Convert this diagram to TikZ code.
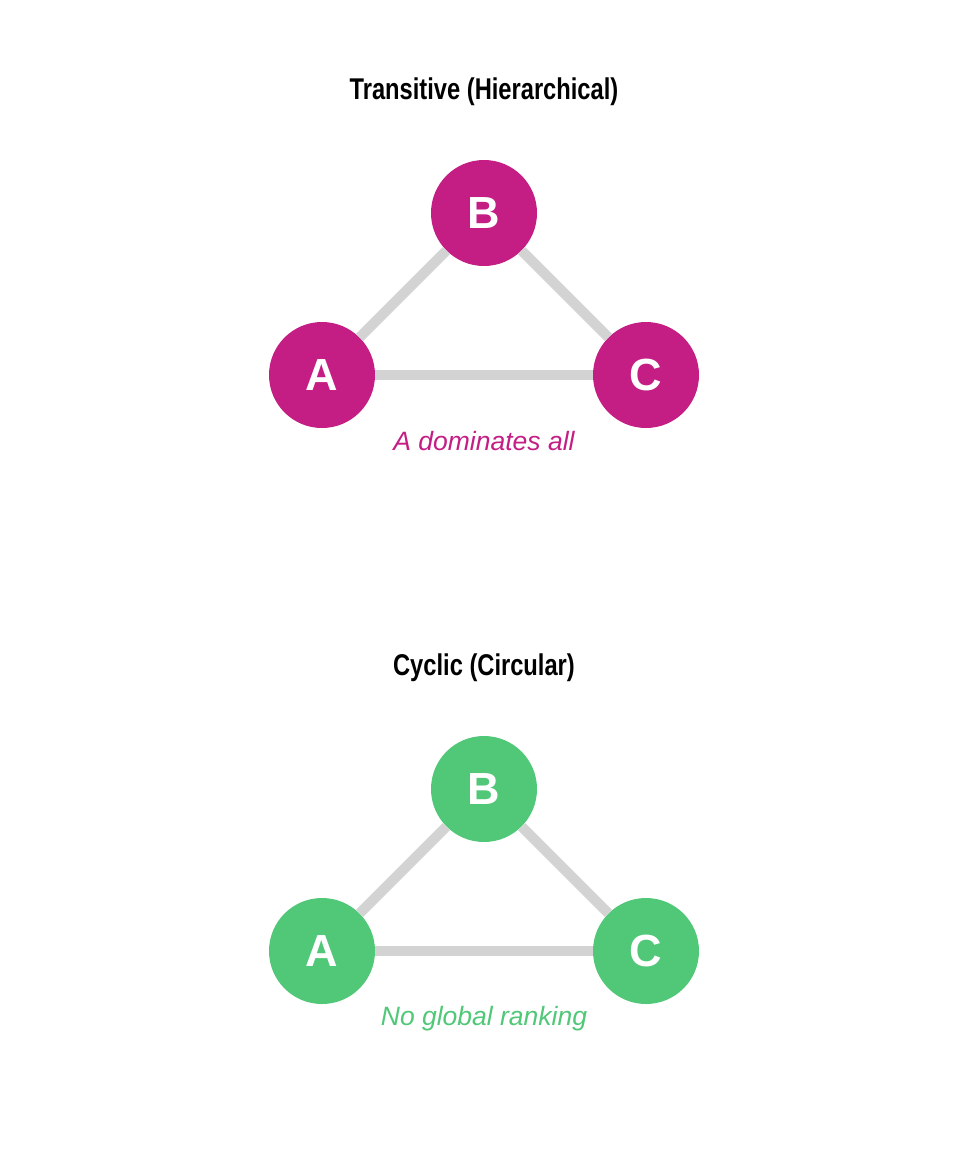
\documentclass[tikz,border=0pt]{standalone}
\usepackage{fontspec}
\usepackage{graphicx}
\setmainfont{Liberation Sans}
\definecolor{magentaC}{HTML}{C41E85}
\definecolor{greenC}{HTML}{50C878}
\definecolor{edgeC}{HTML}{D3D3D3}
\begin{document}
\begin{tikzpicture}[x=1pt,y=-1pt,
  player/.style={circle,minimum size=106pt,inner sep=0pt,text=white,font=\fontsize{45}{54}\selectfont\bfseries},
  tri/.style={draw=edgeC,line width=10pt},
  ttl/.style={font=\fontsize{30}{36}\selectfont\bfseries},
  note/.style={font=\fontsize{26.5}{32}\selectfont\itshape}]
\useasboundingbox[fill=white] (0,0) rectangle (960,1152);
% top
\node[ttl] (t1) at (484,92) {\scalebox{0.79}[1]{Transitive (Hierarchical)}};
\node[player,fill=magentaC] (B1) at (484,213) {B};
\node[player,fill=magentaC] (A1) at (322,375) {A};
\node[player,fill=magentaC] (C1) at (646,375) {C};
\draw[tri] (A1) -- (B1);
\draw[tri] (B1) -- (C1);
\draw[tri] (A1) -- (C1);
\node[note,text=magentaC] (n1) at (484,441) {A dominates all};
% bottom
\node[ttl] (t2) at (484,668) {\scalebox{0.79}[1]{Cyclic (Circular)}};
\node[player,fill=greenC] (B2) at (484,789) {B};
\node[player,fill=greenC] (A2) at (322,951) {A};
\node[player,fill=greenC] (C2) at (646,951) {C};
\draw[tri] (A2) -- (B2);
\draw[tri] (B2) -- (C2);
\draw[tri] (A2) -- (C2);
\node[note,text=greenC] (n2) at (484,1018.5) {No global ranking};
\end{tikzpicture}
\end{document}
